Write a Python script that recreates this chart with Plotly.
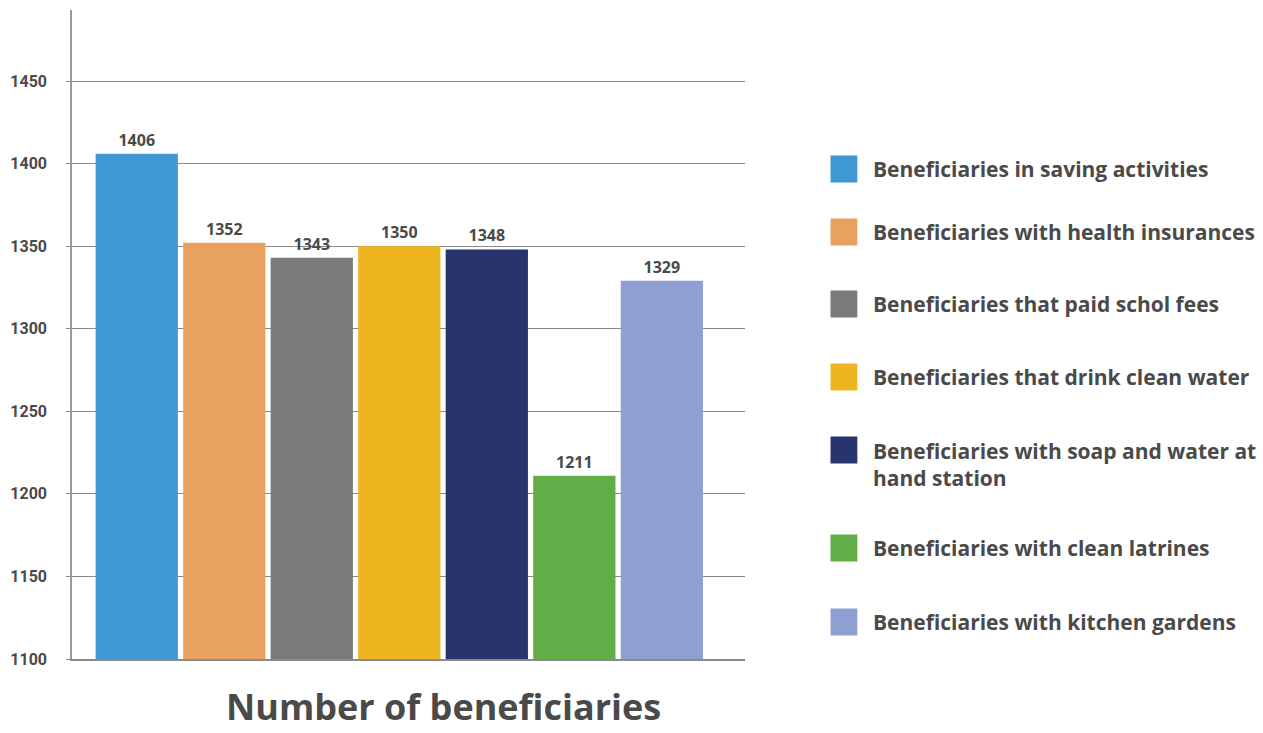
import plotly.graph_objects as go

categories = [
    "Beneficiaries in saving activities",
    "Beneficiaries with health insurances",
    "Beneficiaries that paid schol fees",
    "Beneficiaries that drink clean water",
    "Beneficiaries with soap and water at<br>hand station",
    "Beneficiaries with clean latrines",
    "Beneficiaries with kitchen gardens",
]
values = [1406, 1352, 1343, 1350, 1348, 1211, 1329]
colors = ["#3f97d3", "#e8a15e", "#7a7b7d", "#edb620", "#29346f", "#62ad47", "#8da0d1"]
y_ticks = [1100, 1150, 1200, 1250, 1300, 1350, 1400, 1450]

TEXT = "#4a4a4a"
W, H = 1263, 733
L, R, T, B = 68, 745, 10, 659  # plot area in px

fig = go.Figure()
for i, (cat, v, c) in enumerate(zip(categories, values, colors)):
    fig.add_trace(go.Bar(
        x=[i], y=[v], width=0.94, marker=dict(color=c, line=dict(width=0)),
        text=[str(v)], textposition="outside", cliponaxis=False,
        textfont=dict(family="Open Sans", size=16, color=TEXT, weight="bold"),
        name=cat, showlegend=False, hoverinfo="skip",
    ))

def px_x(p):
    return (p - L) / (R - L)

def px_y(p):
    return (B - p) / (B - T)

# custom legend (swatch centres in px)
legend_centres = [169, 232, 304, 377, 450, 548, 622]
shapes = []
annotations = []
for cat, c, yc in zip(categories, colors, legend_centres):
    shapes.append(dict(type="rect", xref="paper", yref="paper",
                       x0=px_x(831), x1=px_x(858), y0=px_y(yc + 13.5), y1=px_y(yc - 13.5),
                       fillcolor=c, line=dict(width=0)))
    multi = "<br>" in cat
    annotations.append(dict(
        xref="paper", yref="paper", x=px_x(872), y=px_y(yc - 15 if multi else yc),
        xanchor="left", yanchor="top" if multi else "middle", align="left",
        text=cat, showarrow=False,
        font=dict(family="Open Sans", size=21, color=TEXT, weight="bold"),
    ))

annotations.append(dict(
    xref="paper", yref="paper", x=px_x(442), y=px_y(733), xanchor="center", yanchor="bottom",
    text="Number of beneficiaries", showarrow=False,
    font=dict(family="Open Sans", size=36, color=TEXT, weight="bold"),
))

fig.update_layout(
    width=W, height=H,
    margin=dict(l=L, r=W - R, t=T, b=H - B),
    paper_bgcolor="white", plot_bgcolor="white",
    barmode="overlay",
    shapes=shapes, annotations=annotations,
    xaxis=dict(range=[-0.74, 6.95], showticklabels=False, showgrid=False, zeroline=False,
               showline=True, linecolor="#8a8a8a", linewidth=1.5, ticks=""),
    yaxis=dict(range=[1100, 1493], tickvals=y_ticks, ticktext=[str(t) for t in y_ticks],
               showgrid=True, gridcolor="#8a8a8a", gridwidth=1, zeroline=False,
               showline=True, linecolor="#9a9a9a", linewidth=1.5,
               ticks="outside", ticklen=4, tickcolor="#8a8a8a", ticklabelstandoff=16,
               tickfont=dict(family="Roboto", size=16, color=TEXT, weight="bold")),
    font=dict(family="Open Sans", color=TEXT),
)

fig.write_html("out.html", config={"displayModeBar": False},
               post_script="document.body.style.margin='0px';document.body.style.overflow='hidden';")
